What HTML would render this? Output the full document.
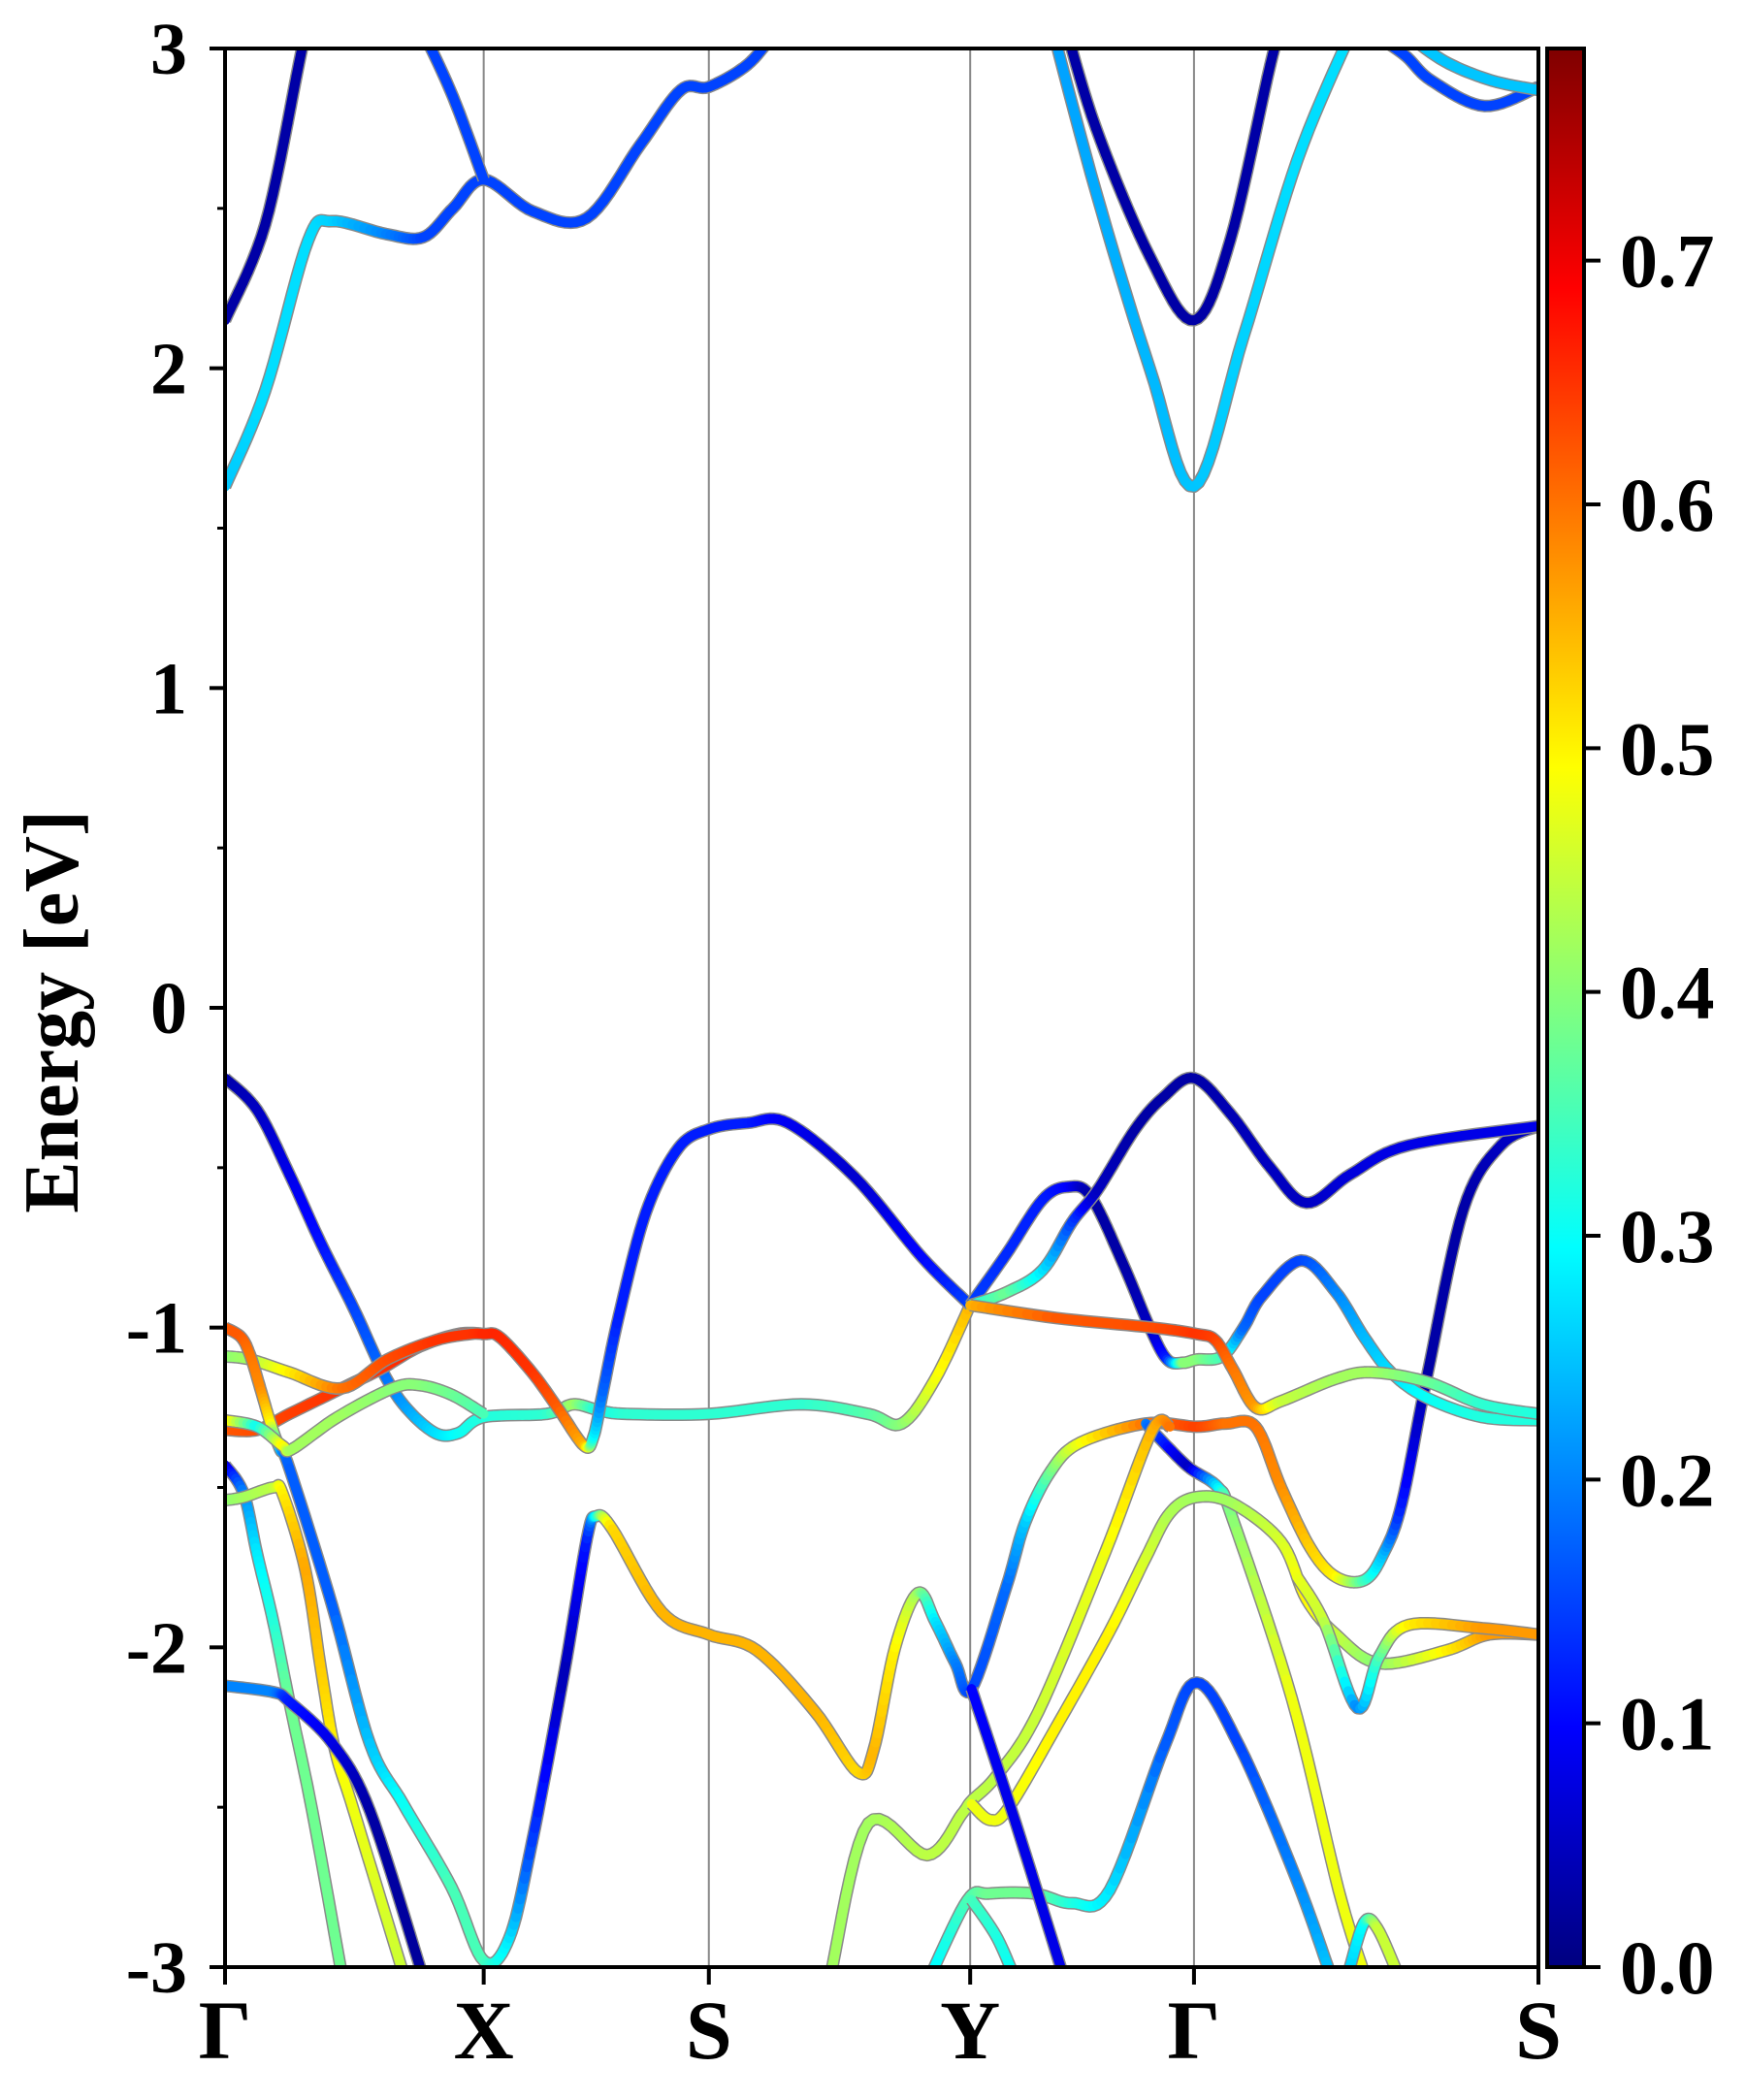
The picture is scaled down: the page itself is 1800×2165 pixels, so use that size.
<!DOCTYPE html>
<html><head><meta charset="utf-8"><style>
body{margin:0;background:#fff;}
svg text{font-family:"Liberation Serif",serif;font-weight:bold;fill:#000;}
</style></head><body>
<svg id="chart" width="1800" height="2160" viewBox="0 0 1800 2160" xmlns="http://www.w3.org/2000/svg">
<defs><clipPath id="pc"><rect x="232" y="50" width="1354" height="1978"/></clipPath>
<linearGradient id="jetgrad" x1="0" y1="1" x2="0" y2="0">
<stop offset="0" stop-color="#00007f"/><stop offset="0.125" stop-color="#0000ff"/><stop offset="0.375" stop-color="#00ffff"/><stop offset="0.625" stop-color="#ffff00"/><stop offset="0.875" stop-color="#ff0000"/><stop offset="1" stop-color="#7f0000"/></linearGradient></defs>
<g id="vlines"></g>
<g id="bands" clip-path="url(#pc)"></g>
<rect x="232" y="50" width="1354" height="1978" fill="none" stroke="#000" stroke-width="4"/>
<g id="axes"></g>
<text transform="translate(80,1043) rotate(-90)" text-anchor="middle" font-size="80">Energy [eV]</text>
<rect x="1595" y="50" width="38" height="1978" fill="url(#jetgrad)" stroke="#000" stroke-width="4"/>
<g id="cbticks"></g>
</svg>
<script>
const kLabels=["Γ","X","S","Y","Γ","S"];
const kPos=[0,193,361,556,723,980];
const yTicks=[-3,-2,-1,0,1,2,3];
const yTickLabels=["-3","-2","-1","0","1","2","3"];
const cbTicks=[0,0.1,0.2,0.3,0.4,0.5,0.6,0.7];
const cbTickLabels=["0.0","0.1","0.2","0.3","0.4","0.5","0.6","0.7"];
const wMax=0.787;
// each band: [k (path units), energy eV, weight]
const bandV1=[[0,-0.22,0.03],[24,-0.32,0.05],[48,-0.52,0.08],[72,-0.74,0.11],[96,-0.94,0.15],[118,-1.14,0.18],[135,-1.25,0.22],[157,-1.33,0.27],[174,-1.33,0.3],[193,-1.28,0.32],[240,-1.27,0.33],[260,-1.24,0.42],[280,-1.26,0.3],[300,-1.27,0.33],[361,-1.27,0.33],[430,-1.24,0.33],[480,-1.27,0.36],[505,-1.30,0.4],[530,-1.16,0.48],[556,-0.93,0.55]];
const bandOrangeX=[[0,-1.32,0.62],[24,-1.32,0.63],[48,-1.27,0.64],[87,-1.19,0.65],[116,-1.13,0.65],[145,-1.06,0.66],[174,-1.02,0.66],[193,-1.02,0.66],[205,-1.03,0.66],[229,-1.14,0.65],[248,-1.25,0.62],[268,-1.37,0.55],[275,-1.34,0.3],[282,-1.20,0.18],[294,-0.96,0.12],[314,-0.64,0.12],[338,-0.44,0.12],[361,-0.38,0.12],[390,-0.36,0.12],[420,-0.36,0.09],[470,-0.53,0.06],[520,-0.78,0.1],[556,-0.93,0.15]];
const bandGreenX=[[0,-1.09,0.4],[19,-1.10,0.42],[48,-1.14,0.5],[87,-1.19,0.6],[121,-1.10,0.63],[157,-1.04,0.65],[183,-1.02,0.65],[193,-1.02,0.66]];
const bandOrangeDown=[[0,-1.00,0.62],[12,-1.03,0.62],[19,-1.09,0.6],[27,-1.20,0.58],[34,-1.30,0.5],[41,-1.38,0.25],[48,-1.44,0.17],[80,-1.87,0.17],[108,-2.30,0.25],[133,-2.49,0.3],[169,-2.75,0.35],[193,-2.98,0.35],[212,-2.91,0.28],[229,-2.61,0.15],[253,-2.08,0.04],[270,-1.66,0.12],[277,-1.59,0.3],[289,-1.63,0.52],[326,-1.89,0.55],[361,-1.96,0.55],[397,-2.01,0.55],[440,-2.20,0.55],[472,-2.39,0.52],[484,-2.32,0.55],[500,-2.00,0.5],[517,-1.83,0.42],[530,-1.92,0.28],[545,-2.05,0.2],[557,-2.13,0.15],[583,-1.81,0.18],[597,-1.61,0.25],[616,-1.45,0.38],[638,-1.36,0.48],[687,-1.30,0.6],[725,-1.31,0.64],[747,-1.30,0.6],[769,-1.31,0.6],[788,-1.50,0.58],[810,-1.69,0.53],[829,-1.78,0.5],[850,-1.79,0.35],[864,-1.71,0.25],[878,-1.55,0.12],[897,-1.15,0.03],[924,-0.63,0.03],[952,-0.43,0.05],[980,-0.37,0.06]];
const bandGreenLow=[[0,-1.29,0.55],[24,-1.31,0.3],[43,-1.37,0.5],[50,-1.38,0.42],[84,-1.28,0.42],[125,-1.19,0.4],[145,-1.18,0.4],[169,-1.21,0.38],[193,-1.27,0.35]];
const bandNavyCyan=[[0,-1.43,0.05],[14,-1.52,0.2],[24,-1.71,0.28],[36,-1.92,0.32],[48,-2.17,0.38],[65,-2.51,0.38],[87,-3.02,0.38]];
const bandYellowSteep=[[0,-1.54,0.4],[14,-1.53,0.42],[36,-1.50,0.44],[43,-1.52,0.5],[60,-1.76,0.56],[72,-2.08,0.53],[82,-2.32,0.5],[96,-2.51,0.48],[133,-3.02,0.45]];
const bandNavyLow=[[0,-2.12,0.2],[36,-2.14,0.2],[48,-2.17,0.12],[80,-2.30,0.08],[108,-2.51,0.03],[147,-3.02,0.02]];
const bandHump=[[556,-0.93,0.15],[583,-0.77,0.13],[610,-0.60,0.12],[629,-0.56,0.1],[646,-0.59,0.03],[670,-0.80,0.03],[690,-1.00,0.05],[703,-1.10,0.12],[715,-1.11,0.4],[725,-1.10,0.4],[744,-1.09,0.35],[760,-1.00,0.18],[774,-0.90,0.15],[803,-0.79,0.15],[829,-0.89,0.2],[850,-1.03,0.24],[870,-1.14,0.27],[897,-1.22,0.3],[938,-1.28,0.32],[980,-1.29,0.32]];
const bandTop=[[556,-0.93,0.3],[583,-0.89,0.38],[610,-0.82,0.28],[632,-0.67,0.15],[651,-0.57,0.05],[679,-0.38,0.03],[700,-0.28,0.03],[723,-0.22,0.03],[750,-0.33,0.04],[780,-0.50,0.05],[807,-0.61,0.05],[840,-0.52,0.07],[883,-0.43,0.08],[980,-0.37,0.08]];
const bandOrangeY=[[556,-0.93,0.55],[620,-0.97,0.62],[692,-1.00,0.63],[725,-1.02,0.65],[739,-1.04,0.64],[752,-1.13,0.6],[769,-1.25,0.57],[788,-1.23,0.45],[829,-1.16,0.42],[856,-1.14,0.42],[897,-1.17,0.38],[938,-1.24,0.33],[980,-1.27,0.32]];
const bandR=[[687,-1.30,0.2],[705,-1.38,0.1],[720,-1.44,0.05],[741,-1.50,0.28],[752,-1.60,0.4],[796,-2.16,0.48],[831,-2.76,0.48],[850,-3.02,0.48]];
const bandK1=[[452,-3.02,0.42],[480,-2.55,0.42],[524,-2.65,0.44],[550,-2.52,0.44],[557,-2.48,0.44],[576,-2.40,0.44],[607,-2.20,0.45],[657,-1.70,0.48],[692,-1.32,0.55],[705,-1.31,0.6]];
const bandK2=[[557,-2.49,0.48],[571,-2.54,0.48],[585,-2.50,0.48],[620,-2.25,0.5],[660,-1.95,0.5],[687,-1.72,0.46],[705,-1.58,0.43],[725,-1.53,0.42],[752,-1.55,0.42],[788,-1.67,0.46],[807,-1.85,0.5],[829,-1.96,0.45],[861,-2.05,0.4],[911,-2.01,0.5],[943,-1.96,0.57],[980,-1.96,0.57]];
const bandG=[[800,-1.78,0.48],[820,-1.92,0.45],[845,-2.19,0.2],[861,-2.03,0.35],[883,-1.93,0.5],[938,-1.94,0.57],[980,-1.96,0.57]];
const bandBump=[[527,-3.02,0.28],[554,-2.79,0.35],[570,-2.77,0.38],[604,-2.77,0.38],[632,-2.80,0.32],[660,-2.76,0.28],[701,-2.31,0.17],[725,-2.11,0.15],[757,-2.31,0.15],[798,-2.71,0.2],[823,-3.0,0.25]];
const bandU=[[557,-2.79,0.35],[575,-2.90,0.32],[588,-3.02,0.3]];
const bandYDown=[[557,-2.13,0.1],[590,-2.55,0.08],[625,-3.02,0.08]];
const bandP=[[838,-3.02,0.25],[850,-2.86,0.3],[860,-2.88,0.45],[875,-3.02,0.45]];
const bandC1=[[0,2.15,0.03],[30,2.45,0.03],[55,2.95,0.03],[62,3.1,0.03]];
const bandC2=[[0,1.63,0.25],[30,1.93,0.27],[62,2.40,0.27],[80,2.46,0.26],[120,2.42,0.2],[148,2.41,0.15],[170,2.50,0.15],[193,2.59,0.15],[230,2.49,0.15],[270,2.47,0.15],[310,2.70,0.15],[340,2.87,0.15],[361,2.88,0.15],[390,2.95,0.15],[410,3.05,0.15]];
const bandC3=[[148,3.05,0.15],[170,2.85,0.15],[193,2.59,0.15]];
const bandC4=[[625,3.1,0.03],[650,2.75,0.03],[690,2.35,0.03],[723,2.15,0.03],[750,2.40,0.03],[780,2.95,0.03],[790,3.1,0.03]];
const bandC5=[[615,3.1,0.22],[650,2.55,0.23],[690,2.00,0.24],[723,1.63,0.25],[760,2.10,0.26],[800,2.65,0.27],[840,3.05,0.27]];
const bandC6=[[855,3.05,0.15],[880,2.98,0.15],[900,2.90,0.15],[940,2.82,0.15],[980,2.88,0.15]];
const bandC7=[[880,3.05,0.25],[910,2.96,0.25],[945,2.90,0.25],[980,2.87,0.25]];
const allBands=[bandV1,bandOrangeX,bandGreenX,bandOrangeDown,bandGreenLow,bandNavyCyan,bandYellowSteep,bandNavyLow,bandHump,bandTop,bandOrangeY,bandR,bandK1,bandK2,bandG,bandBump,bandU,bandYDown,bandP,bandC1,bandC2,bandC3,bandC4,bandC5,bandC6,bandC7];

const X0=232,X1=1586,Y0=50,Y1=2028;
const kx=k=>X0+k/980*(X1-X0);
const ey=e=>Y1-(e+3)/6*(Y1-Y0);
const NS='http://www.w3.org/2000/svg';
function jet(v){let t=Math.max(0,Math.min(1,v/wMax));
 const r=Math.max(0,Math.min(1,1.5-Math.abs(4*t-3))),g=Math.max(0,Math.min(1,1.5-Math.abs(4*t-2))),b=Math.max(0,Math.min(1,1.5-Math.abs(4*t-1)));
 return `rgb(${Math.round(r*255)},${Math.round(g*255)},${Math.round(b*255)})`;}
function mk(tag,attrs,parent){const el=document.createElementNS(NS,tag);for(const a in attrs)el.setAttribute(a,attrs[a]);parent.appendChild(el);return el;}
const vl=document.getElementById('vlines');
kPos.slice(1,5).forEach(k=>{const l=mk('line',{x1:kx(k),x2:kx(k),y1:Y0,y2:Y1,stroke:'#888','stroke-width':2},vl);

});
const bg=document.getElementById('bands');
function smooth(B){const P=[];const n=B.length;
 for(let i=0;i<n-1;i++){const p0=i>0?i-1:i,p3=i+2<n?i+2:i+1;
  for(let s=0;s<10;s++){const t=s/10,t2=t*t,t3=t2*t;
   const f=j=>0.5*((2*B[i][j])+(-B[p0][j]+B[i+1][j])*t+(2*B[p0][j]-5*B[i][j]+4*B[i+1][j]-B[p3][j])*t2+(-B[p0][j]+3*B[i][j]-3*B[i+1][j]+B[p3][j])*t3);
   P.push([f(0),f(1),B[i][2]+(B[i+1][2]-B[i][2])*t]);}}
 P.push(B[n-1]);return P;}
function drawBand(B){const P=smooth(B);
 const g=mk('g',{},bg);
 
 
 const d='M'+P.map(p=>kx(p[0]).toFixed(1)+','+ey(p[1]).toFixed(1)).join('L');
 mk('path',{d:d,fill:'none',stroke:'#8a8a8a','stroke-width':13,'stroke-linejoin':'round'},g);
 for(let i=0;i<P.length-1;i++){mk('line',{x1:kx(P[i][0]),y1:ey(P[i][1]),x2:kx(P[i+1][0]),y2:ey(P[i+1][1]),stroke:jet((P[i][2]+P[i+1][2])/2),'stroke-width':10,'stroke-linecap':'round'},g);}}
allBands.forEach(drawBand);
const ax=document.getElementById('axes');
yTicks.forEach((v,i)=>{const y=ey(v);
 const t=mk('line',{x1:X0-16,x2:X0,y1:y,y2:y,stroke:'#000','stroke-width':4},ax);
 
 
 const tx=mk('text',{x:193,y:y+26,'text-anchor':'end','font-size':76},ax);tx.textContent=yTickLabels[i];
 
 
 if(i<yTicks.length-1){const m=mk('line',{x1:X0-8,x2:X0,y1:ey(v+0.5),y2:ey(v+0.5),stroke:'#000','stroke-width':3},ax);
 
 }});
kPos.forEach((k,i)=>{const x=kx(k);
 const t=mk('line',{x1:x,x2:x,y1:Y1,y2:Y1+18,stroke:'#000','stroke-width':4},ax);
 
 
 const tx=mk('text',{x:x,y:2122,'text-anchor':'middle','font-size':86},ax);tx.textContent=kLabels[i];
 
 });
const cb=document.getElementById('cbticks');
cbTicks.forEach((v,i)=>{const y=Y1-v/wMax*(Y1-Y0);
 const t=mk('line',{x1:1633,x2:1650,y1:y,y2:y,stroke:'#000','stroke-width':4},cb);
 
 
 const tx=mk('text',{x:1670,y:y+27,'font-size':78},cb);tx.textContent=cbTickLabels[i];
 
 });
</script>
</body></html>
